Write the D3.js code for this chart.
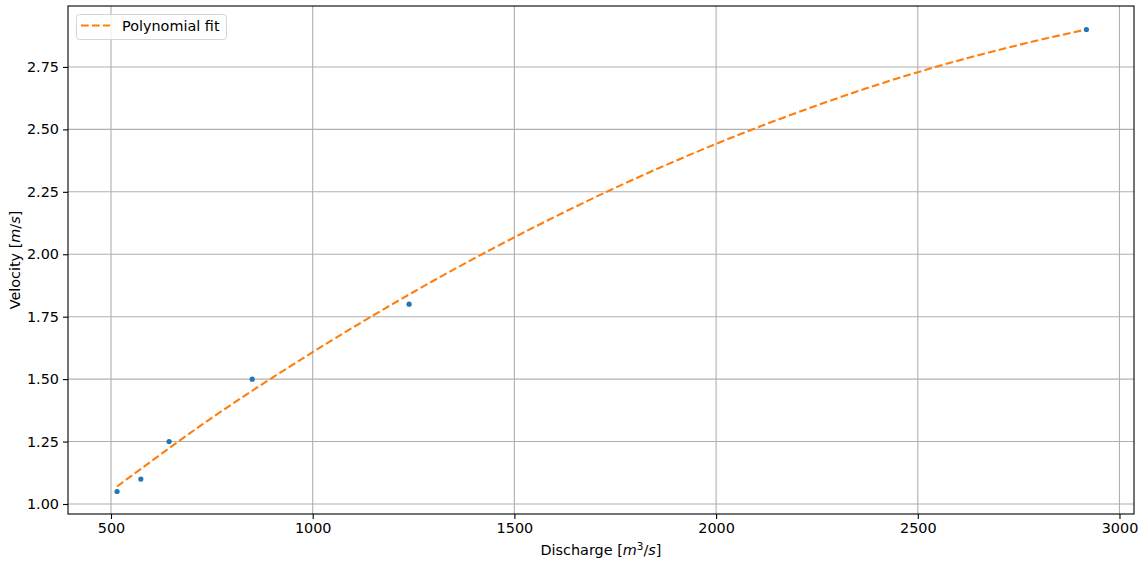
<!DOCTYPE html>
<html>
<head>
<meta charset="utf-8">
<script src="https://cdn.jsdelivr.net/npm/d3@7"></script>
<style>
  body { margin: 0; background: #fff; }
  text { font-family: "DejaVu Sans", sans-serif; fill: #000; }
</style>
</head>
<body>
<div id="chart"></div>
<script>
// measured points
const discharge = [515, 574, 644, 850, 1239, 2918];
const velocity = [1.05, 1.10, 1.25, 1.50, 1.80, 2.90];

// polynomial fit curve
const fitQ = [515, 750, 1000, 1250, 1500, 1750, 2000, 2250, 2500, 2750, 2918];
const fitV = [1.07, 1.345, 1.608, 1.849, 2.068, 2.266, 2.442, 2.596, 2.729, 2.838, 2.90];

const xTicks = [500, 1000, 1500, 2000, 2500, 3000];
const yTicks = [1.00, 1.25, 1.50, 1.75, 2.00, 2.25, 2.50, 2.75];

const largura = 1144, altura = 568;
const margem = { top: 6, right: 10, bottom: 54, left: 68 };
const fonte = '14.4px';

const svg = d3.select('#chart')
    .append('svg')
    .attr('width', largura)
    .attr('height', altura);

const x = d3.scaleLinear()
    .domain([393.4, 3036])
    .range([margem.left, largura - margem.right]);
const y = d3.scaleLinear()
    .domain([0.96, 2.994])
    .range([altura - margem.bottom, margem.top]);

// grid
const grid = svg.append('g').attr('class', 'grid');
grid.selectAll('.gx')
    .data(xTicks)
    .enter()
    .append('line')
    .attr('x1', d => x(d)).attr('x2', d => x(d))
    .attr('y1', y.range()[0]).attr('y2', y.range()[1])
    .attr('stroke', '#b0b0b0').attr('stroke-width', 1.1);
grid.selectAll('.gy')
    .data(yTicks)
    .enter()
    .append('line')
    .attr('y1', d => y(d)).attr('y2', d => y(d))
    .attr('x1', x.range()[0]).attr('x2', x.range()[1])
    .attr('stroke', '#b0b0b0').attr('stroke-width', 1.1);

// axes
const eixoX = svg.append('g')
    .attr('transform', `translate(0,${altura - margem.bottom})`)
    .call(d3.axisBottom(x).tickValues(xTicks).tickFormat(d3.format('d')).tickSize(5).tickPadding(4));
const eixoY = svg.append('g')
    .attr('transform', `translate(${margem.left},0)`)
    .call(d3.axisLeft(y).tickValues(yTicks).tickFormat(d3.format('.2f')).tickSize(5).tickPadding(4));
[eixoX, eixoY].forEach(g => {
    g.select('.domain').remove();
    g.selectAll('text').style('font-size', fonte).attr('fill', '#000');
    g.selectAll('line').attr('stroke', '#000').attr('stroke-width', 1.1);
});

// frame
svg.append('rect')
    .attr('x', margem.left).attr('y', margem.top)
    .attr('width', largura - margem.left - margem.right)
    .attr('height', altura - margem.top - margem.bottom)
    .attr('fill', 'none').attr('stroke', '#000').attr('stroke-width', 1.1);

// fit line
const linha = d3.line()
    .x((d, i) => x(d))
    .y((d, i) => y(fitV[i]))
    .curve(d3.curveMonotoneX);
svg.append('path')
    .datum(fitQ)
    .attr('d', linha)
    .attr('fill', 'none')
    .attr('stroke', '#ff7f0e')
    .attr('stroke-width', 2.1)
    .attr('stroke-dasharray', '7.7,3.3');

// points
svg.append('g')
    .selectAll('circle')
    .data(discharge)
    .enter()
    .append('circle')
    .attr('cx', d => x(d))
    .attr('cy', (d, i) => y(velocity[i]))
    .attr('r', 2.6)
    .attr('fill', '#1f77b4');

// legend
const legenda = svg.append('g');
legenda.append('rect')
    .attr('x', 76.5).attr('y', 14.5)
    .attr('width', 150).attr('height', 25)
    .attr('rx', 3)
    .attr('fill', '#fff').attr('fill-opacity', 0.8)
    .attr('stroke', '#d5d5d5');
legenda.append('line')
    .attr('x1', 81).attr('x2', 110)
    .attr('y1', 25.5).attr('y2', 25.5)
    .attr('stroke', '#ff7f0e').attr('stroke-width', 2.1)
    .attr('stroke-dasharray', '7.7,3.3');
legenda.append('text')
    .attr('x', 122).attr('y', 31)
    .style('font-size', fonte)
    .text('Polynomial fit');

// axis labels
const rotX = svg.append('text')
    .attr('x', (x.range()[0] + x.range()[1]) / 2)
    .attr('y', 555)
    .attr('text-anchor', 'middle')
    .style('font-size', fonte);
rotX.append('tspan').text('Discharge [');
rotX.append('tspan').attr('font-style', 'italic').text('m');
rotX.append('tspan').attr('dy', -5).style('font-size', '10.5px').text('3');
rotX.append('tspan').attr('dy', 5).text('/');
rotX.append('tspan').attr('font-style', 'italic').text('s');
rotX.append('tspan').text(']');

const rotY = svg.append('text')
    .attr('transform', `translate(20,${(y.range()[0] + y.range()[1]) / 2}) rotate(-90)`)
    .attr('text-anchor', 'middle')
    .style('font-size', fonte);
rotY.append('tspan').text('Velocity [');
rotY.append('tspan').attr('font-style', 'italic').text('m');
rotY.append('tspan').text('/');
rotY.append('tspan').attr('font-style', 'italic').text('s');
rotY.append('tspan').text(']');
</script>
</body>
</html>
